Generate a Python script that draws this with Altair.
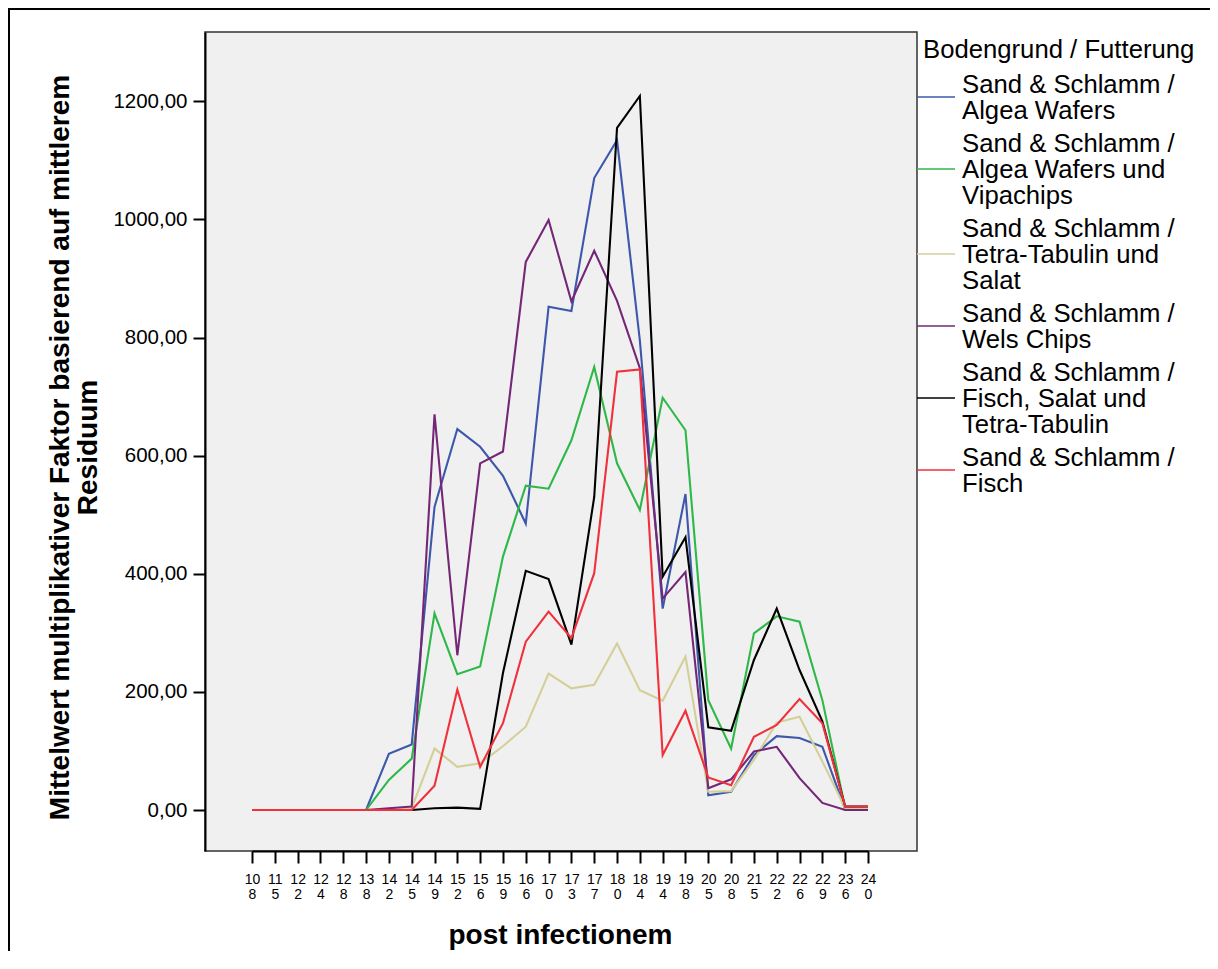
import altair as alt
import pandas as pd

# x categories (days post infection)
days = ["108", "115", "122", "124", "128", "138", "142", "145", "149", "152",
        "156", "159", "166", "170", "173", "177", "180", "184", "194", "198",
        "205", "208", "215", "222", "226", "229", "236", "240"]

# series names (line breaks as in the legend)
names = [
    "Sand & Schlamm /\nAlgea Wafers",
    "Sand & Schlamm /\nAlgea Wafers und\nVipachips",
    "Sand & Schlamm /\nTetra-Tabulin und\nSalat",
    "Sand & Schlamm /\nWels Chips",
    "Sand & Schlamm /\nFisch, Salat und\nTetra-Tabulin",
    "Sand & Schlamm /\nFisch",
]
colors = ["#3d58ab", "#2eb848", "#d4cf99", "#742777", "#000000", "#f0313c"]
legend_title = "Bodengrund / Futterung"

algea = [0, 0, 0, 0, 0, 0, 95, 111, 513, 645, 615, 566, 485, 852, 845, 1070,
         1134, 795, 341, 535, 25, 31, 93, 125, 122, 107, 1, 1]
algea_vipa = [0, 0, 0, 0, 0, 0, 51, 87, 333, 230, 243, 429, 549, 544, 626, 750,
              587, 508, 698, 643, 186, 104, 299, 328, 319, 186, 3, 2]
tetra_salat = [0, 0, 0, 0, 0, 0, 0, 3, 104, 73, 79, 108, 141, 231, 206, 212,
               282, 203, 185, 260, 31, 32, 85, 148, 158, 82, 3, 2]
wels = [0, 0, 0, 0, 0, 0, 3, 6, 670, 262, 587, 607, 928, 999, 861, 947,
        862, 748, 358, 403, 37, 52, 99, 107, 54, 12, 0, 0]
fisch_salat_tetra = [0, 0, 0, 0, 0, 0, 0, 0, 3, 4, 2, 232, 405, 391, 280, 530,
                     1155, 1209, 395, 462, 140, 134, 254, 341, 237, 150, 6, 6]
fisch = [0, 0, 0, 0, 0, 0, 0, 0, 41, 204, 73, 147, 285, 336, 291, 401,
         742, 746, 93, 168, 55, 42, 124, 144, 188, 147, 6, 6]

series = [algea, algea_vipa, tetra_salat, wels, fisch_salat_tetra, fisch]

y_ticks = [0, 200, 400, 600, 800, 1000, 1200]

rows = []
for name, vals in zip(names, series):
    for d, v in zip(days, vals):
        rows.append({"Tag": d, "Gruppe": name, "Wert": v})
df = pd.DataFrame(rows)

FONT = "Liberation Sans"
LEG_FS = 25.7

color_scale = alt.Scale(domain=names, range=colors)

lines = alt.Chart(df).mark_line(strokeWidth=2.1, clip=True).encode(
    x=alt.X("Tag:O", sort=days, scale=alt.Scale(range=[47, 663], padding=0),
            axis=alt.Axis(
                title="post infectionem", titleFontSize=28, titleFontWeight="bold",
                titleColor="black", titleY=84, titleBaseline="middle",
                labelAngle=0, labelFontSize=14, labelLineHeight=15, labelColor="black",
                labelExpr="[substring(datum.label, 0, 2), substring(datum.label, 2)]",
                labelOverlap=False, labelPadding=9,
                tickSize=12, tickWidth=2, tickColor="black",
                domainColor="black", domainWidth=2, grid=False)),
    y=alt.Y("Wert:Q", scale=alt.Scale(domain=[-69.4, 1317.3], nice=False, zero=False),
            axis=alt.Axis(
                values=y_ticks,
                labelExpr="replace(format(datum.value, '.2f'), '.', ',')",
                title=["Mittelwert multiplikativer Faktor basierend auf mittlerem", "Residuum"],
                titleFontSize=28, titleFontWeight="bold", titleColor="black",
                titleLineHeight=28, titleBaseline="alphabetic",
                titleX=-137, titleY=415, titleAngle=270,
                labelFontSize=20.5, labelColor="black", labelPadding=6,
                tickSize=12, tickWidth=2, tickColor="black",
                domainColor="black", domainWidth=2, grid=False)),
    color=alt.Color("Gruppe:N", sort=names, scale=color_scale, legend=None),
)

# ---- legend (drawn as guide marks to the right of the plot) ----
dummy = pd.DataFrame({"k": [0]})
legend_layers = [
    alt.Chart(dummy).mark_text(
        text=legend_title, align="left", baseline="middle", fontSize=LEG_FS,
        color="black", font=FONT
    ).encode(x=alt.value(718), y=alt.value(18))
]
LEG_TOP, LH, GAP = 53, 26, 7
k = 0
for j, (name, col) in enumerate(zip(names, colors)):
    parts = name.split("\n")
    first = LEG_TOP + k * LH + j * GAP
    for m, p in enumerate(parts):
        legend_layers.append(
            alt.Chart(dummy).mark_text(
                text=p, align="left", baseline="middle", fontSize=LEG_FS,
                color="black", font=FONT
            ).encode(x=alt.value(757), y=alt.value(first + m * LH))
        )
    sym_y = first + (len(parts) - 1) * LH / 2 - 1
    legend_layers.append(
        alt.Chart(dummy).mark_rule(color=col, strokeWidth=1.5).encode(
            x=alt.value(712), x2=alt.value(750), y=alt.value(sym_y))
    )
    k += len(parts)

frame = alt.Chart(dummy).mark_rect(
    fill=None, stroke="black", strokeWidth=2, clip=False
).encode(
    x=alt.value(-196), y=alt.value(-23), x2=alt.value(1200), y2=alt.value(1100)
)

chart = alt.layer(frame, lines, *legend_layers).properties(
    width=712, height=819,
    padding={"left": 197, "top": 24, "right": 293, "bottom": 100},
    autosize=alt.AutoSizeParams(type="none"),
).configure(
    font=FONT
).configure_view(
    fill="#f0f0f0", stroke="#333333", strokeWidth=1.5
)

chart.save("out.html", embed_options={"renderer": "svg", "actions": False})
